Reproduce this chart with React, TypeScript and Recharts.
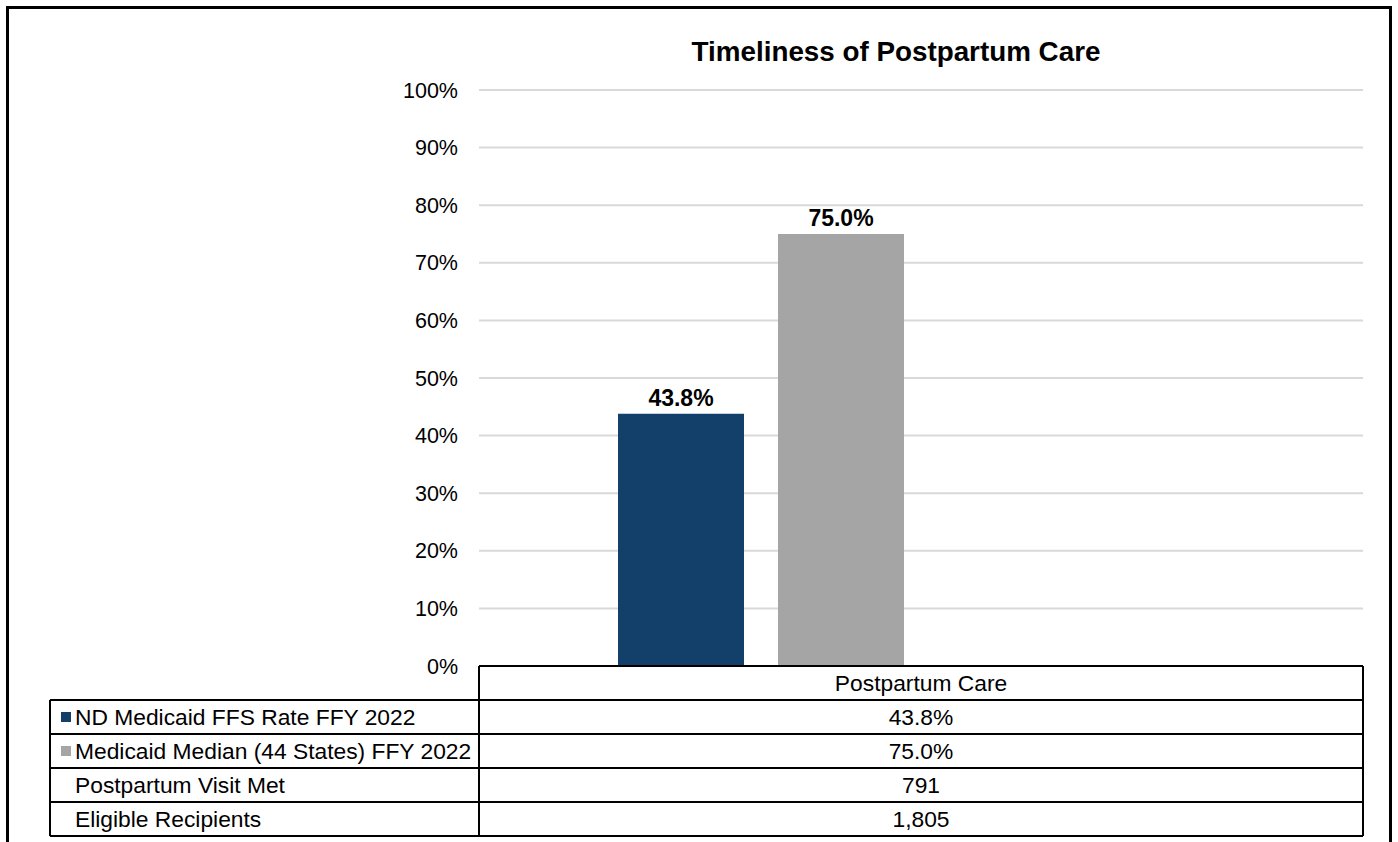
import React from "react";
import { Bar, BarChart, CartesianGrid, LabelList, XAxis, YAxis } from "recharts";

const categories = ["Postpartum Care"];
const ndRate = [43.8];
const medianRate = [75.0];
const visitMet = [791];
const eligible = [1805];
const yTicks = [0, 10, 20, 30, 40, 50, 60, 70, 80, 90, 100];

const NAVY = "#12406A";
const GRAY = "#A5A5A5";
const FONT = "'Liberation Sans', Arial, sans-serif";

const chartData = categories.map((c, i) => ({
  category: c,
  nd: ndRate[i],
  median: medianRate[i],
  // table-only series: they hold a slot in the group but draw nothing
  visitMet: null,
  eligible: null,
}));

const tableRows = [
  { label: "ND Medicaid FFS Rate FFY 2022", color: NAVY, values: ndRate.map((v) => v.toFixed(1) + "%") },
  { label: "Medicaid Median (44 States) FFY 2022", color: GRAY, values: medianRate.map((v) => v.toFixed(1) + "%") },
  { label: "Postpartum Visit Met", color: null, values: visitMet.map((v) => v.toLocaleString("en-US")) },
  { label: "Eligible Recipients", color: null, values: eligible.map((v) => v.toLocaleString("en-US")) },
];

const PLOT_L = 479;
const PLOT_R = 1363;
const TABLE_L = 50;
const HEAD_T = 666;
const ROW_H = 34;

function DataTable() {
  const colW = (PLOT_R - PLOT_L) / categories.length;
  const bottom = HEAD_T + ROW_H * (tableRows.length + 1);
  return (
    <svg width={1398} height={842} style={{ position: "absolute", left: 0, top: 0 }}>
      <g stroke="#000" strokeWidth={2} fill="none">
        <line x1={PLOT_L} y1={HEAD_T} x2={PLOT_R} y2={HEAD_T} />
        <line x1={PLOT_L} y1={HEAD_T} x2={PLOT_L} y2={bottom} />
        <line x1={PLOT_R} y1={HEAD_T} x2={PLOT_R} y2={bottom} />
        <line x1={TABLE_L} y1={HEAD_T + ROW_H} x2={TABLE_L} y2={bottom} />
        {tableRows.map((_, i) => (
          <line key={i} x1={TABLE_L} y1={HEAD_T + ROW_H * (i + 1)} x2={PLOT_R} y2={HEAD_T + ROW_H * (i + 1)} />
        ))}
        <line x1={TABLE_L} y1={bottom} x2={PLOT_R} y2={bottom} />
      </g>
      <g fontFamily={FONT} fontSize={22.8} fill="#000">
        {categories.map((c, j) => (
          <text key={c} x={PLOT_L + colW * (j + 0.5)} y={HEAD_T + ROW_H / 2 + 8} textAnchor="middle">
            {c}
          </text>
        ))}
        {tableRows.map((r, i) => {
          const yMid = HEAD_T + ROW_H * (i + 1) + ROW_H / 2;
          return (
            <g key={r.label}>
              {r.color && <rect x={61} y={yMid - 5} width={10} height={10} fill={r.color} />}
              <text x={75} y={yMid + 8}>
                {r.label}
              </text>
              {r.values.map((v, j) => (
                <text key={j} x={PLOT_L + colW * (j + 0.5)} y={yMid + 8} textAnchor="middle">
                  {v}
                </text>
              ))}
            </g>
          );
        })}
      </g>
    </svg>
  );
}

export default function App() {
  return (
    <div style={{ position: "absolute", left: 0, top: 0, width: 1398, height: 842, background: "#fff", overflow: "hidden" }}>
      <div
        style={{
          position: "absolute",
          left: 6,
          top: 6,
          width: 1380,
          height: 860,
          border: "3px solid #000",
        }}
      />
      <div
        style={{
          position: "absolute",
          left: 0,
          top: 36,
          width: 1398,
          textAlign: "center",
          fontFamily: FONT,
          fontWeight: "bold",
          fontSize: 27.8,
          paddingLeft: 394,
          boxSizing: "border-box",
        }}
      >
        Timeliness of Postpartum Care
      </div>
      <div style={{ position: "absolute", left: 0, top: 0 }}>
        <BarChart
          width={1398}
          height={680}
          data={chartData}
          margin={{ top: 90, right: 1398 - PLOT_R, bottom: 14, left: 0 }}
          barSize={126}
          barGap={34}
        >
          <CartesianGrid vertical={false} stroke="#D9D9D9" strokeWidth={2} />
          <XAxis dataKey="category" hide />
          <YAxis
            width={PLOT_L}
            domain={[0, 100]}
            ticks={yTicks}
            interval={0}
            axisLine={false}
            tickLine={false}
            tickMargin={15}
            tickFormatter={(v: number) => `${v}%`}
            tick={{ fill: "#000", fontSize: 21.5, fontFamily: FONT }}
          />
          <Bar dataKey="nd" fill={NAVY} isAnimationActive={false}>
            <LabelList
              dataKey="nd"
              position="top"
              offset={8}
              formatter={(v: number) => v.toFixed(1) + "%"}
              style={{ fill: "#000", fontWeight: "bold", fontSize: 23, fontFamily: FONT }}
            />
          </Bar>
          <Bar dataKey="median" fill={GRAY} isAnimationActive={false}>
            <LabelList
              dataKey="median"
              position="top"
              offset={8}
              formatter={(v: number) => v.toFixed(1) + "%"}
              style={{ fill: "#000", fontWeight: "bold", fontSize: 23, fontFamily: FONT }}
            />
          </Bar>
          <Bar dataKey="visitMet" fill="transparent" isAnimationActive={false} />
          <Bar dataKey="eligible" fill="transparent" isAnimationActive={false} />
        </BarChart>
      </div>
      <DataTable />
    </div>
  );
}
